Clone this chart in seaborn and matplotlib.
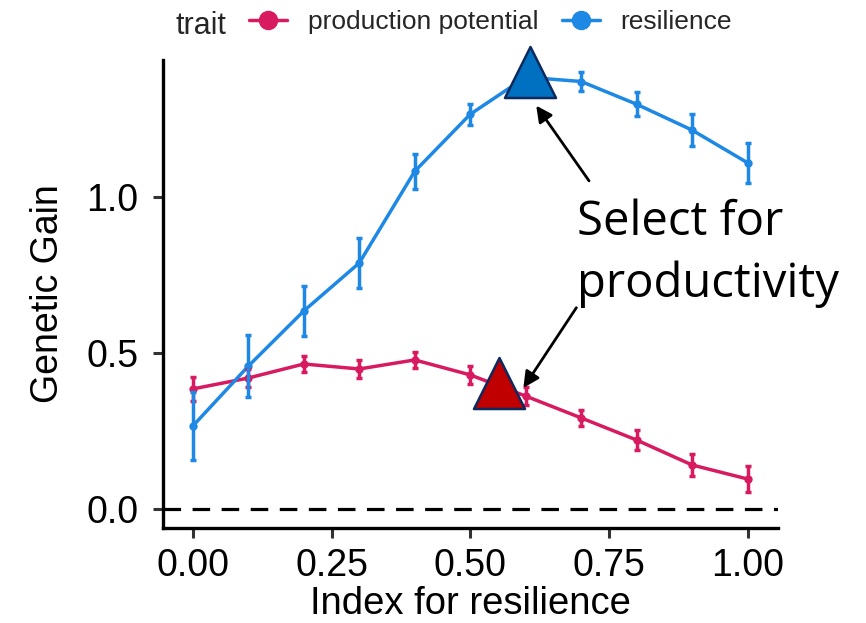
import matplotlib
matplotlib.use("Agg")
import matplotlib.pyplot as plt
from matplotlib.lines import Line2D
import pandas as pd
import seaborn as sns

# Selection index weight on resilience
index_weight = [0.0, 0.1, 0.2, 0.3, 0.4, 0.5, 0.6, 0.7, 0.8, 0.9, 1.0]

# Genetic gain for each trait and its standard error
gain_production = [0.385, 0.42, 0.465, 0.449, 0.478, 0.43, 0.362, 0.292, 0.221, 0.141, 0.096]
se_production = [0.038, 0.03, 0.026, 0.028, 0.027, 0.03, 0.028, 0.026, 0.031, 0.035, 0.041]
gain_resilience = [0.266, 0.458, 0.635, 0.789, 1.083, 1.266, 1.385, 1.371, 1.298, 1.215, 1.11]
se_resilience = [0.109, 0.1, 0.079, 0.079, 0.057, 0.033, 0.03, 0.03, 0.038, 0.051, 0.064]

trait_names = ["production potential", "resilience"]
trait_colors = ["#D81B60", "#1E88E5"]

# Highlighted optima (index weight, gain)
opt_x = [0.607, 0.551]
opt_y = [1.40, 0.405]

df = pd.DataFrame({
    "index": index_weight * 2,
    "gain": gain_production + gain_resilience,
    "se": se_production + se_resilience,
    "trait": [trait_names[0]] * len(index_weight) + [trait_names[1]] * len(index_weight),
})

sns.set_theme(style="white")
plt.rcParams["font.family"] = ["Liberation Sans", "DejaVu Sans"]

fig = plt.figure(figsize=(8.66, 6.23), dpi=100)
ax = fig.add_axes([0.188, 0.1525, 0.71, 0.7512])

palette = dict(zip(trait_names, trait_colors))
ax.axhline(0, color="black", lw=2.3, ls=(0, (5.5, 3.6)), zorder=1)
sns.lineplot(data=df, x="index", y="gain", hue="trait", palette=palette,
             marker="o", markersize=6, markeredgewidth=0, lw=2.5,
             legend=False, ax=ax, zorder=3)
for name, col in palette.items():
    sub = df[df["trait"] == name]
    ax.errorbar(sub["index"], sub["gain"], yerr=sub["se"], fmt="none",
                ecolor=col, elinewidth=2.5, capsize=2.2, capthick=2.5, zorder=3)

# Triangles marking the chosen index
ax.scatter([opt_x[0]], [opt_y[0]], marker="^", s=1350, color="#0070C0",
           edgecolor="#0D2A5E", linewidths=1.8, zorder=5, clip_on=False)
ax.scatter([opt_x[1]], [opt_y[1]], marker="^", s=1350, color="#C00000",
           edgecolor="#0D2A5E", linewidths=1.8, zorder=5, clip_on=False)

ax.annotate("", xy=(0.616, 1.301), xytext=(0.717, 1.045),
            arrowprops=dict(arrowstyle="-|>", color="black", lw=2, mutation_scale=24), zorder=6)
ax.annotate("", xy=(0.593, 0.381), xytext=(0.694, 0.653),
            arrowprops=dict(arrowstyle="-|>", color="black", lw=2, mutation_scale=24), zorder=6)
note_font = ["Open Sans", "DejaVu Sans"]
fig.text(0.666, 0.6228, "Select for", ha="left", va="baseline",
         fontsize=34, family=note_font, color="black")
fig.text(0.666, 0.5233, "productivity", ha="left", va="baseline",
         fontsize=34, family=note_font, color="black")

ax.set_xlim(-0.054, 1.054)
ax.set_ylim(-0.061, 1.44)
ax.set_xticks([0, 0.25, 0.5, 0.75, 1.0])
ax.set_xticklabels(["0.00", "0.25", "0.50", "0.75", "1.00"])
ax.set_yticks([0, 0.5, 1.0])
ax.set_yticklabels(["0.0", "0.5", "1.0"])
ax.tick_params(axis="both", length=7.5, width=2.2, color="#333333",
               labelsize=27, labelcolor="black", left=True, bottom=True)
ax.tick_params(axis="x", pad=7)
ax.tick_params(axis="y", pad=10)
for s in ["top", "right"]:
    ax.spines[s].set_visible(False)
for s in ["left", "bottom"]:
    ax.spines[s].set_color("black")
    ax.spines[s].set_linewidth(2.4)
ax.set_xlabel("Index for resilience", fontsize=27.5, color="black", labelpad=1)
ax.set_ylabel("Genetic Gain", fontsize=27, color="black", labelpad=15)

handles = [Line2D([0], [0], color=c, lw=2.5, marker="o", markersize=13) for c in trait_colors]
fig.text(175 / 866, 1 - 34 / 623, "trait", fontsize=22, ha="left", va="baseline")
fig.legend(handles, trait_names, loc="center left", bbox_to_anchor=(249 / 866, 1 - 22 / 623),
           ncol=2, frameon=False, fontsize=19, handlelength=1.44, columnspacing=0.87,
           handletextpad=0.8, borderpad=0, borderaxespad=0)

fig.savefig("out.png", dpi=100)
